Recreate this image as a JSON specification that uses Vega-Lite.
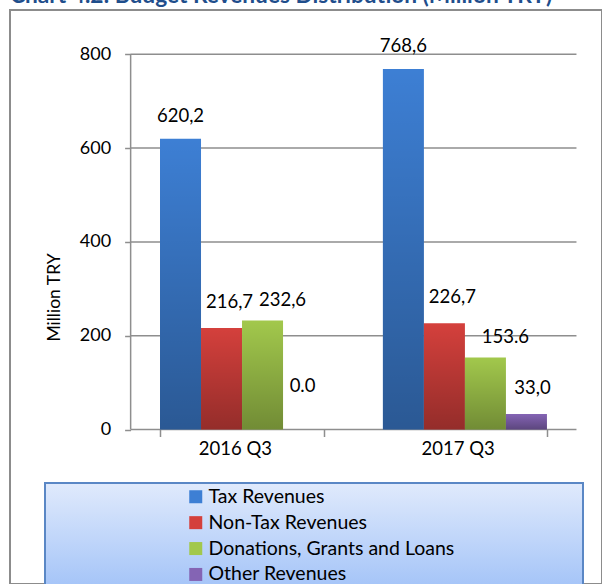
{
  "$schema": "https://vega.github.io/schema/vega-lite/v6.json",
  "autosize": "none",
  "padding": {"left": 10, "top": 10, "right": 0, "bottom": 0},
  "width": 592,
  "height": 574,
  "background": "white",
  "view": {"stroke": "#8c8c8c", "strokeWidth": 2, "fill": "white"},
  "title": {
    "text": "Chart 4.2: Budget Revenues Distribution (Million TRY)",
    "anchor": "start",
    "frame": "group",
    "orient": "top",
    "baseline": "alphabetic",
    "offset": -16,
    "dx": 0,
    "font": "Lato",
    "fontSize": 22.7,
    "fontWeight": "bold",
    "color": "#1f4e8c"
  },
  "datasets": {
    "revenues": [
      {"year": "2016 Q3", "series": "Tax Revenues", "value": 620.2, "label": "620,2"},
      {"year": "2016 Q3", "series": "Non-Tax Revenues", "value": 216.7, "label": "216,7"},
      {"year": "2016 Q3", "series": "Donations, Grants and Loans", "value": 232.6, "label": "232,6"},
      {"year": "2016 Q3", "series": "Other Revenues", "value": 0.0, "label": "0.0"},
      {"year": "2017 Q3", "series": "Tax Revenues", "value": 768.6, "label": "768,6"},
      {"year": "2017 Q3", "series": "Non-Tax Revenues", "value": 226.7, "label": "226,7"},
      {"year": "2017 Q3", "series": "Donations, Grants and Loans", "value": 153.6, "label": "153.6"},
      {"year": "2017 Q3", "series": "Other Revenues", "value": 33.0, "label": "33,0"}
    ],
    "gridValues": [{"v": 0}, {"v": 200}, {"v": 400}, {"v": 600}, {"v": 800}]
  },
  "data": {"name": "revenues"},
  "layer": [
    {
      "data": {"name": "gridValues"},
      "mark": {"type": "rule", "color": "#8e8e8e", "strokeWidth": 1.5},
      "encoding": {
        "x": {"datum": "2016 Q3", "bandPosition": -0.179, "type": "nominal"},
        "x2": {"datum": "2017 Q3", "bandPosition": 1.18},
        "y": {"field": "v", "type": "quantitative"}
      }
    },
    {
      "data": {"values": [{}]},
      "mark": {"type": "rule", "color": "#8e8e8e", "strokeWidth": 1.5},
      "encoding": {
        "x": {"datum": "2016 Q3", "bandPosition": -0.179, "type": "nominal"},
        "y": {"datum": 0, "type": "quantitative"},
        "y2": {"datum": 800}
      }
    },
    {
      "mark": {"type": "bar"},
      "encoding": {
        "x": {
          "field": "year",
          "type": "nominal",
          "title": null,
          "scale": {"paddingInner": 0.264, "paddingOuter": 0.46, "align": 0.7315},
          "axis": {
            "orient": "bottom",
            "offset": -154.5,
            "domain": false,
            "grid": false,
            "tickBand": "extent",
            "tickSize": 7,
            "tickColor": "#8e8e8e",
            "tickWidth": 1.5,
            "labelAngle": 0,
            "labelOffset": 29.4,
            "labelFont": "Lato",
            "labelFontSize": 18.5,
            "labelColor": "#000000",
            "labelPadding": 12
          }
        },
        "xOffset": {
          "field": "series",
          "type": "nominal",
          "scale": {"domain": ["Tax Revenues", "Non-Tax Revenues", "Donations, Grants and Loans", "Other Revenues"], "paddingInner": 0, "paddingOuter": 0}
        },
        "y": {
          "field": "value",
          "type": "quantitative",
          "title": "Million TRY",
          "scale": {"domain": [-329.4, 894.5], "nice": false, "zero": false},
          "axis": {
            "orient": "left",
            "offset": -120.6,
            "values": [0, 200, 400, 600, 800],
            "domain": false,
            "grid": false,
            "tickSize": 6,
            "tickColor": "#8e8e8e",
            "tickWidth": 1.5,
            "labelFont": "Lato",
            "labelFontSize": 18,
            "labelColor": "#000000",
            "labelPadding": 14,
            "titleFont": "Lato",
            "titleFontSize": 17.5,
            "titleFontWeight": "normal",
            "titleColor": "#000000",
            "titlePadding": 16
          }
        },
        "y2": {"datum": 0},
        "color": {
          "field": "series",
          "type": "nominal",
          "scale": {
            "domain": ["Tax Revenues", "Non-Tax Revenues", "Donations, Grants and Loans", "Other Revenues"],
            "range": ["#3d7fd4", "#d4403c", "#a2c84c", "#8464b4"]
          },
          "legend": {
            "orient": "none",
            "legendX": 35,
            "legendY": 473,
            "title": "\u00a0",
            "titleOrient": "right",
            "titlePadding": 125,
            "padding": 4,
            "symbolOffset": 137,
            "symbolType": "square",
            "symbolSize": 169,
            "symbolStrokeWidth": 0,
            "labelFont": "Lato",
            "labelFontSize": 19.5,
            "labelColor": "#000000",
            "labelOffset": 3,
            "labelLimit": 400,
            "rowPadding": 4.9,
            "strokeColor": "#5a87c5",
            "encode": {
              "legend": {
                "update": {
                  "fill": {"value": {"gradient": "linear", "x1": 0, "y1": 0, "x2": 0, "y2": 1, "stops": [{"offset": 0, "color": "#e0eafc"}, {"offset": 1, "color": "#a4c4f8"}]}},
                  "strokeWidth": {"value": 2}
                }
              }
            }
          }
        }
      }
    },
    {
      "mark": {
        "type": "bar",
        "color": {"gradient": "linear", "x1": 0, "y1": 0, "x2": 0, "y2": 1, "stops": [{"offset": 0, "color": "rgba(0,0,0,0)"}, {"offset": 1, "color": "rgba(0,0,0,0.3)"}]}
      },
      "encoding": {
        "x": {"field": "year", "type": "nominal"},
        "xOffset": {"field": "series", "type": "nominal"},
        "y": {"field": "value", "type": "quantitative"},
        "y2": {"datum": 0}
      }
    },
    {
      "transform": [{"filter": "datum.series == 'Tax Revenues'"}],
      "mark": {"type": "text", "font": "Lato", "fontSize": 18.5, "color": "#000000", "baseline": "middle", "dy": -23},
      "encoding": {
        "x": {"field": "year", "type": "nominal"},
        "xOffset": {"field": "series", "type": "nominal"},
        "y": {"field": "value", "type": "quantitative"},
        "text": {"field": "label"}
      }
    },
    {
      "transform": [{"filter": "datum.series == 'Non-Tax Revenues'"}],
      "mark": {"type": "text", "font": "Lato", "fontSize": 18.5, "color": "#000000", "baseline": "middle", "dx": 8, "dy": -26},
      "encoding": {
        "x": {"field": "year", "type": "nominal"},
        "xOffset": {"field": "series", "type": "nominal"},
        "y": {"field": "value", "type": "quantitative"},
        "text": {"field": "label"}
      }
    },
    {
      "transform": [{"filter": "datum.series == 'Donations, Grants and Loans'"}],
      "mark": {"type": "text", "font": "Lato", "fontSize": 18.5, "color": "#000000", "baseline": "middle", "dx": 20, "dy": -20},
      "encoding": {
        "x": {"field": "year", "type": "nominal"},
        "xOffset": {"field": "series", "type": "nominal"},
        "y": {"field": "value", "type": "quantitative"},
        "text": {"field": "label"}
      }
    },
    {
      "transform": [{"filter": "datum.series == 'Other Revenues' && datum.value > 0"}],
      "mark": {"type": "text", "font": "Lato", "fontSize": 18.5, "color": "#000000", "baseline": "middle", "dx": 6, "dy": -26},
      "encoding": {
        "x": {"field": "year", "type": "nominal"},
        "xOffset": {"field": "series", "type": "nominal"},
        "y": {"field": "value", "type": "quantitative"},
        "text": {"field": "label"}
      }
    },
    {
      "transform": [{"filter": "datum.series == 'Other Revenues' && datum.value == 0"}],
      "mark": {"type": "text", "font": "Lato", "fontSize": 18.5, "color": "#000000", "baseline": "middle", "dx": -1, "dy": -44},
      "encoding": {
        "x": {"field": "year", "type": "nominal"},
        "xOffset": {"field": "series", "type": "nominal"},
        "y": {"field": "value", "type": "quantitative"},
        "text": {"field": "label"}
      }
    }
  ]
}
